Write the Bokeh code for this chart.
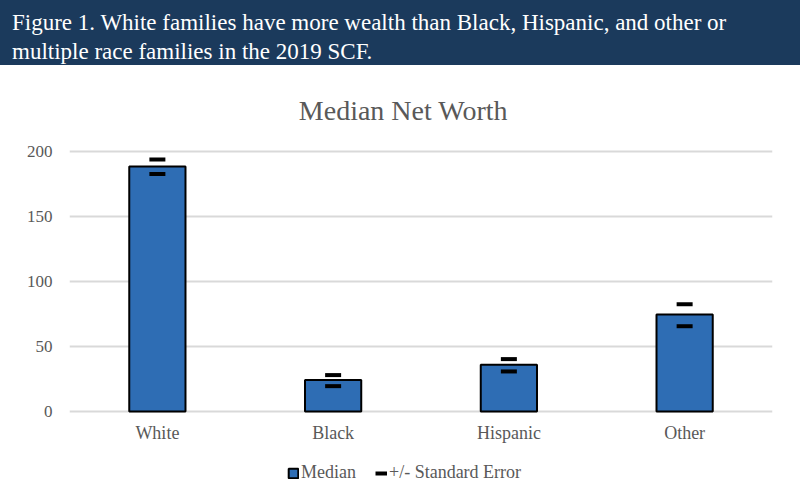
from bokeh.plotting import figure
from bokeh.models import (Range1d, FactorRange, FixedTicker, Legend, LegendItem,
                          ColumnDataSource, Label, Div)
from bokeh.layouts import column
from bokeh.embed import file_html
from bokeh.resources import INLINE

categories = ["White", "Black", "Hispanic", "Other"]
median = [188.5, 24.2, 36.0, 74.6]
se_upper = [193.8, 28.0, 40.3, 82.5]
se_lower = [182.6, 19.5, 30.8, 65.6]
y_ticks = [0, 50, 100, 150, 200]

header_line1 = "Figure 1. White families have more wealth than Black, Hispanic, and other or"
header_line2 = "multiple race families in the 2019 SCF."
chart_title = "Median Net Worth"

SERIF = "Liberation Serif"
GRAY = "#595959"

header = Div(
    text=header_line1 + "<br>" + header_line2,
    width=800, height=65, margin=(0, 0, 0, 0),
    styles={
        "background-color": "#1b3a5c",
        "color": "white",
        "font-family": SERIF,
        "font-size": "23px",
        "line-height": "29px",
        "padding": "8px 0px 0px 12px",
        "box-sizing": "border-box",
        "white-space": "nowrap",
    },
)

src = ColumnDataSource(dict(cat=categories, med=median, up=se_upper, lo=se_lower))

p = figure(
    width=800, height=427,
    x_range=FactorRange(*categories),
    y_range=Range1d(-62.31, 266.15),
    output_backend="svg", toolbar_location=None,
    min_border_left=69, min_border_right=28, min_border_top=0, min_border_bottom=0,
)
p.margin = (0, 0, 0, 0)

bars = p.vbar(x="cat", top="med", width=0.32, bottom=0, source=src,
              fill_color="#2e6db4", line_color="black", line_width=2)
p.scatter(x="cat", y="up", source=src, marker="dash", size=16, line_width=4, line_color="black")
p.scatter(x="cat", y="lo", source=src, marker="dash", size=16, line_width=4, line_color="black")
dummy = p.line(x=[categories[0]], y=[float("nan")], line_color="black", line_width=4)

# category labels under the baseline
p.text(x="cat", y=0, text="cat", source=src, y_offset=22,
       text_font=SERIF, text_font_size="18px", text_color=GRAY,
       text_align="center", text_baseline="alphabetic")

# chart title
p.add_layout(Label(x=1.9, y=231.5, text=chart_title,
                   text_font=SERIF, text_font_size="28px", text_color=GRAY,
                   text_align="center", text_baseline="alphabetic"))

p.outline_line_color = None
p.xgrid.grid_line_color = None
p.ygrid.grid_line_color = "#d9d9d9"
p.ygrid.grid_line_width = 2
p.xaxis.visible = False
p.yaxis.ticker = FixedTicker(ticks=y_ticks)
p.yaxis.axis_line_color = None
p.yaxis.major_tick_line_color = None
p.yaxis.minor_tick_line_color = None
p.yaxis.major_label_standoff = 11
p.yaxis.major_label_text_font = SERIF
p.yaxis.major_label_text_font_size = "17px"
p.yaxis.major_label_text_color = GRAY

legend = Legend(items=[LegendItem(label="Median", renderers=[bars]),
                       LegendItem(label="+/- Standard Error", renderers=[dummy])],
                orientation="horizontal", location=(218, 9))
legend.label_text_font = SERIF
legend.label_text_font_size = "18px"
legend.label_text_color = GRAY
legend.glyph_width = 12
legend.glyph_height = 12
legend.label_standoff = 2
legend.spacing = 19
legend.padding = 2
legend.margin = 0
legend.border_line_color = None
legend.background_fill_alpha = 0
p.add_layout(legend)

layout = column(header, p, spacing=0)
open("out.html", "w").write(file_html(layout, INLINE))
